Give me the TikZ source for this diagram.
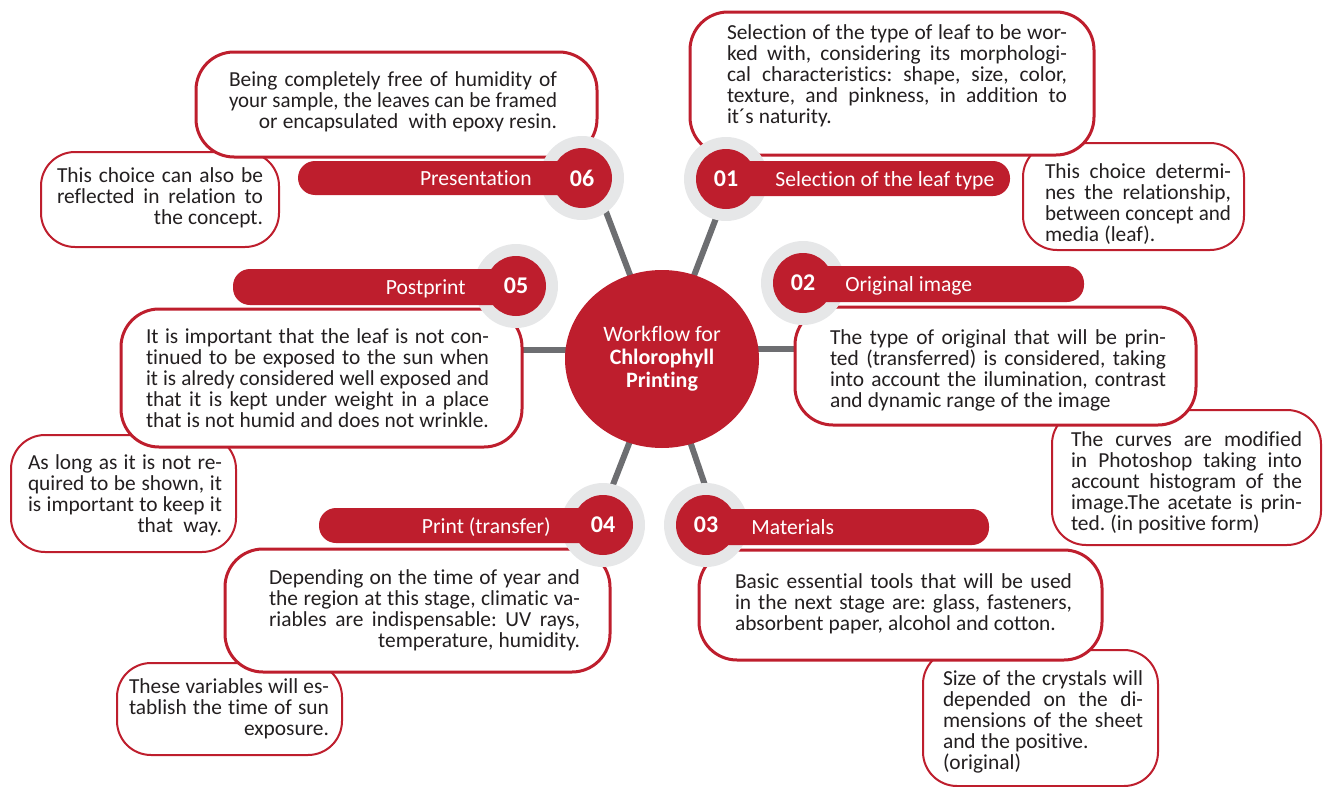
\documentclass[tikz,border=0pt]{standalone}
\usepackage{fontspec}
\usepackage{graphicx}
\setmainfont{Carlito}[Ligatures=NoCommon]
\usetikzlibrary{shapes.geometric,backgrounds}

\definecolor{brand}{HTML}{BE1E2D}
\definecolor{halogray}{HTML}{E6E7E8}
\definecolor{spokegray}{HTML}{6D6E71}
\definecolor{ink}{HTML}{231F20}

% one line of a text block; a line wider than the block is squeezed to fit
\newsavebox\textlinebox
\newcommand\fitline[2]{%
  \frenchspacing\spaceskip=.24em plus 1fil\relax
  \sbox\textlinebox{#2}%
  \ifdim\wd\textlinebox>\hsize
    \hbox{\resizebox{\hsize}{\ht\textlinebox}{\usebox\textlinebox}}%
  \else
    \hbox to\hsize{#1}%
  \fi}
\newcommand\jln[1]{\fitline{#1}{#1}}        % justified
\newcommand\rln[1]{\fitline{\hfill#1}{#1}}  % flush right
\newcommand\lln[1]{\fitline{#1\hfill}{#1}}  % flush left

\tikzset{
  mainbox/.style={rectangle, draw=brand, line width=1.5pt, fill=white, rounded corners=19pt, inner sep=0pt},
  notebox/.style={rectangle, draw=brand, line width=1pt, fill=white, rounded corners=17pt, inner sep=0pt},
  bar/.style={fill=brand, rounded corners=8.5pt},
  haloring/.style={circle, fill=halogray, minimum size=42pt, inner sep=0pt},
  numdisc/.style={circle, fill=brand, minimum size=30pt, inner sep=0pt, text=white,
                  font=\bfseries\fontsize{12}{12}\selectfont},
  spokeline/.style={draw=spokegray, line width=3pt},
  barlabel/.style={text=white, inner sep=0pt, font=\fontsize{10.8}{12}\selectfont},
  body/.style={text=ink, inner sep=0pt, font=\fontsize{10.7}{10.5}\selectfont},
}

\begin{document}
\begin{tikzpicture}[x=0.5pt,y=-0.5pt]
\useasboundingbox (0,0) rectangle (1323,787);

% side notes
\node[notebox, minimum width=119pt, minimum height=47.5pt] (s06) at (160,199.5) {};
\node[notebox, minimum width=110.5pt, minimum height=53.5pt] (s01) at (1133.5,196.5) {};
\node[notebox, minimum width=134.5pt, minimum height=67.5pt] (s02) at (1186.5,477.5) {};
\node[notebox, minimum width=112.5pt, minimum height=58.5pt] (s05) at (123.5,493.5) {};
\node[notebox, minimum width=112.5pt, minimum height=46pt] (s04) at (229.5,709) {};
\node[notebox, minimum width=117.5pt, minimum height=68pt] (s03) at (1040.5,718) {};

% main description boxes
\node[mainbox, minimum width=200.5pt, minimum height=52.5pt] (m06) at (396.5,104.5) {};
\node[mainbox, minimum width=202pt, minimum height=71.5pt] (m01) at (892,83.5) {};
\node[mainbox, minimum width=200.5pt, minimum height=59pt] (m02) at (995.5,366) {};
\node[mainbox, minimum width=200.5pt, minimum height=69pt] (m05) at (321.5,378) {};
\node[mainbox, minimum width=192.5pt, minimum height=61.5pt] (m04) at (417.5,610.5) {};
\node[mainbox, minimum width=201.5pt, minimum height=55pt] (m03) at (900.5,605) {};

% gray rings behind the step numbers
\node[haloring] (h06) at (582,178) {};
\node[haloring] (h01) at (726,179) {};
\node[haloring] (h02) at (803,283) {};
\node[haloring] (h05) at (516,286) {};
\node[haloring] (h04) at (603,525) {};
\node[haloring] (h03) at (706,525) {};

% title bars
\fill[bar] (298,161) rectangle (582,195);
\fill[bar] (726,161) rectangle (1010,196);
\fill[bar] (803,266) rectangle (1084,302);
\fill[bar] (233,269) rectangle (516,305);
\fill[bar] (319,508) rectangle (603,543);
\fill[bar] (706,509) rectangle (989,545);

% step numbers
\node[numdisc] (n06) at (h06) {06};
\node[numdisc] (n01) at (h01) {01};
\node[numdisc] (n02) at (h02) {02};
\node[numdisc] (n05) at (h05) {05};
\node[numdisc] (n04) at (h04) {04};
\node[numdisc] (n03) at (h03) {03};

% hub
\node[ellipse, fill=brand, minimum width=97pt, minimum height=89pt, inner sep=0pt,
      text=white, align=center, font=\fontsize{11}{11.5}\selectfont] (hub) at (662,359)
      {Workflow for\\\textbf{Chlorophyll}\\\textbf{Printing}};

% spokes
\coordinate (e06) at (600,196);
\coordinate (e01) at (723,200);
\coordinate (e04) at (607,500);
\coordinate (e03) at (710,500);
\coordinate (e05) at (505,350);
\coordinate (e02) at (815,349);
\begin{scope}[on background layer]
  \draw[spokeline] (hub.center) -- (e06);
  \draw[spokeline] (hub.center) -- (e01);
  \draw[spokeline] (hub.center) -- (e04);
  \draw[spokeline] (hub.center) -- (e03);
  \draw[spokeline] (hub.center |- e05) -- (e05);
  \draw[spokeline] (hub.center |- e02) -- (e02);
\end{scope}

% bar titles
\node[barlabel, anchor=base east] (l06) at (532,185) {Presentation};
\node[barlabel, anchor=base west] (l01) at (775,186) {Selection of the leaf type};
\node[barlabel, anchor=base west] (l02) at (845,291) {Original image};
\node[barlabel, anchor=base east] (l05) at (466,294) {Postprint};
\node[barlabel, anchor=base east] (l04) at (551,533) {Print (transfer)};
\node[barlabel, anchor=base west] (l03) at (751,534) {Materials};

% texts of the main boxes
\node[body, text width=164pt] (t06) at (393,102) {%
  \jln{Being completely free of humidity of}
  \jln{your sample, the leaves can be framed}
  \rln{or encapsulated\ \ with epoxy resin.}};
\node[body, text width=170pt] (t01) at (897,76) {%
  \jln{Selection of the type of leaf to be wor-}
  \jln{ked with, considering its morphologi-}
  \jln{cal characteristics: shape, size, color,}
  \jln{texture, and pinkness, in addition to}
  \lln{it´s naturity.}};
\node[body, text width=168pt] (t02) at (998,370) {%
  \jln{The type of original that will be prin-}
  \jln{ted (transferred) is considered, taking}
  \jln{into account the ilumination, contrast}
  \lln{and dynamic range of the image}};
\node[body, text width=171.5pt] (t05) at (317.5,378) {%
  \jln{It is important that the leaf is not con-}
  \jln{tinued to be exposed to the sun when}
  \jln{it is alredy considered well exposed and}
  \jln{that it is kept under weight in a place}
  \jln{that is not humid and does not wrinkle.}};
\node[body, text width=155.5pt] (t04) at (424.5,610) {%
  \jln{Depending on the time of year and}
  \jln{the region at this stage, climatic va-}
  \jln{riables are indispensable: UV rays,}
  \rln{temperature, humidity.}};
\node[body, text width=168.5pt] (t03) at (903.5,604) {%
  \jln{Basic essential tools that will be used}
  \jln{in the next stage are: glass, fasteners,}
  \lln{absorbent paper, alcohol and cotton.}};

% texts of the side notes
\node[body, text width=103pt] (u06) at (160,198) {%
  \jln{This choice can also be}
  \jln{reflected in relation to}
  \rln{the concept.}};
\node[body, text width=93pt] (u01) at (1138,204) {%
  \jln{This choice determi-}
  \jln{nes the relationship,}
  \jln{between concept and}
  \lln{media (leaf).}};
\node[body, text width=115.5pt] (u02) at (1186.5,483) {%
  \jln{The curves are modified}
  \jln{in Photoshop taking into}
  \jln{account histogram of the}
  \jln{image.The acetate is prin-}
  \lln{ted. (in positive form)}};
\node[body, text width=97pt] (u05) at (125,495) {%
  \jln{As long as it is not re-}
  \jln{quired to be shown, it}
  \jln{is important to keep it}
  \rln{that\ \ way.}};
\node[body, text width=100pt] (u04) at (229,709) {%
  \jln{These variables will es-}
  \jln{tablish the time of sun}
  \rln{exposure.}};
\node[body, text width=100pt] (u03) at (1043,722) {%
  \jln{Size of the crystals will}
  \jln{depended on the di-}
  \jln{mensions of the sheet}
  \lln{and the positive.}
  \lln{(original)}};
\end{tikzpicture}
\end{document}
